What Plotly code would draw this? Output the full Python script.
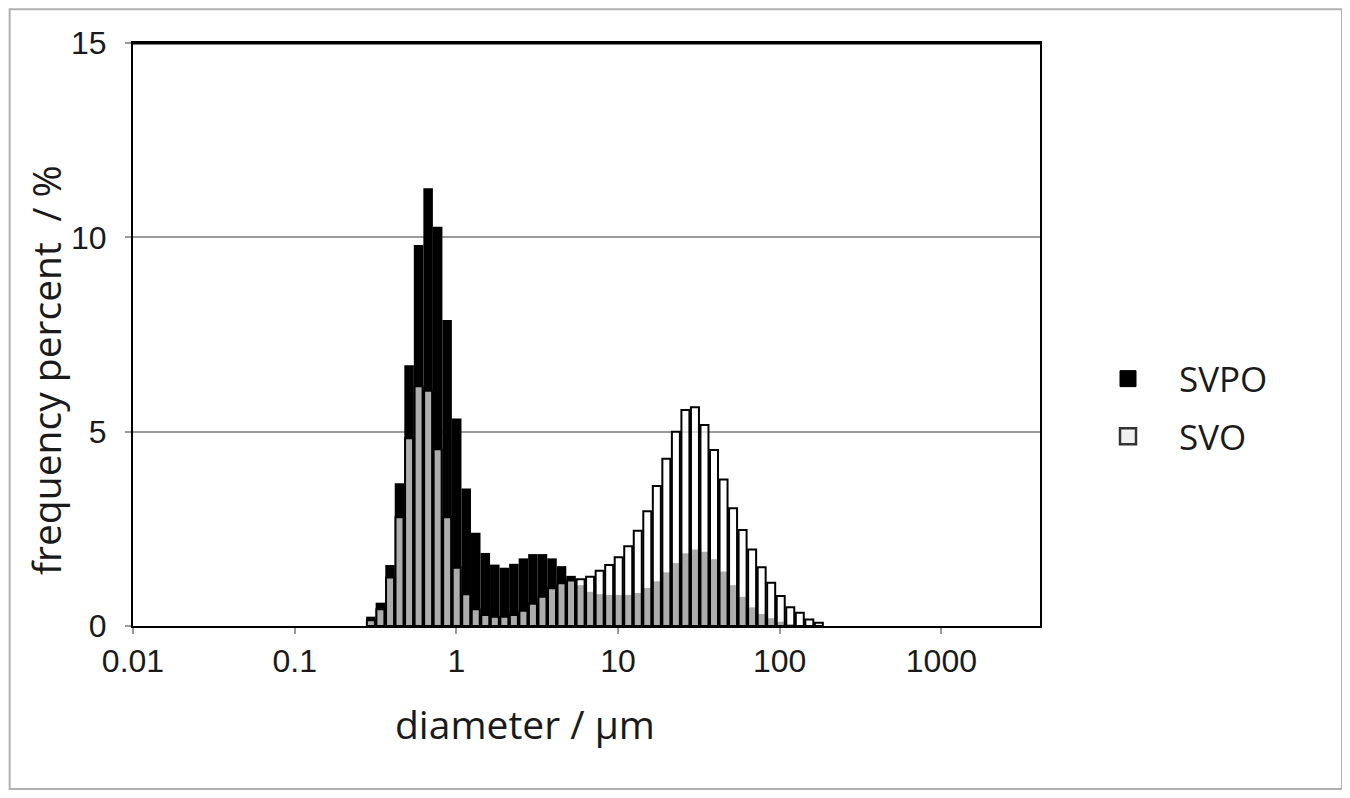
import numpy as np
import plotly.graph_objects as go

# particle size channels (µm)
diameter = [0.296, 0.339, 0.389, 0.445, 0.510, 0.584, 0.669, 0.766, 0.877, 1.005,
            1.151, 1.318, 1.510, 1.729, 1.981, 2.269, 2.599, 2.976, 3.409, 3.905,
            4.472, 5.122, 5.867, 6.720, 7.697, 8.816, 10.097, 11.565, 13.246, 15.172,
            17.377, 19.904, 22.797, 26.111, 29.907, 34.255, 39.234, 44.938, 51.471, 58.953,
            67.523, 77.339, 88.583, 101.46, 116.21, 133.10, 152.45, 174.62]

svpo = [0.24, 0.60, 1.57, 3.67, 6.71, 9.80, 11.26, 10.27, 7.87, 5.34,
        3.54, 2.40, 1.88, 1.58, 1.50, 1.60, 1.74, 1.85, 1.85, 1.74,
        1.54, 1.29, 1.05, 0.88, 0.82, 0.80, 0.80, 0.80, 0.85, 0.98,
        1.15, 1.38, 1.62, 1.87, 1.97, 1.91, 1.72, 1.40, 1.05, 0.75,
        0.48, 0.31, 0.20, 0.11, 0.05, 0.02, 0.0, 0.0]

svo = [0.15, 0.43, 1.25, 2.80, 4.83, 6.17, 6.05, 4.55, 2.80, 1.50,
       0.82, 0.43, 0.28, 0.24, 0.24, 0.28, 0.39, 0.57, 0.75, 0.97,
       1.10, 1.17, 1.20, 1.27, 1.42, 1.57, 1.77, 2.05, 2.45, 2.95,
       3.60, 4.30, 5.00, 5.56, 5.63, 5.17, 4.53, 3.77, 3.03, 2.47,
       1.97, 1.51, 1.11, 0.77, 0.48, 0.34, 0.17, 0.085]

x_ticks = [0.01, 0.1, 1, 10, 100, 1000]
x_tick_labels = ["0.01", "0.1", "1", "10", "100", "1000"]
y_ticks = [0, 5, 10, 15]

logd = np.log10(diameter)
step = float(np.mean(np.diff(logd)))

FONT = "Open Sans"
TICKFONT = "Liberation Sans"
TXT = "#1a1a1a"

fig = go.Figure()
fig.add_trace(go.Bar(
    x=logd, y=svpo, name="SVPO", width=step, showlegend=False,
    marker=dict(color="black", line=dict(color="black", width=0)),
))
fig.add_trace(go.Bar(
    x=logd, y=svo, name="SVO", width=step * 0.84, showlegend=False,
    marker=dict(color="rgba(255,255,255,0.68)", line=dict(color="black", width=2)),
))
# legend entries (square swatches)
fig.add_trace(go.Scatter(
    x=[None], y=[None], mode="markers", name="SVPO", legendgroup="a",
    marker=dict(symbol="square", size=18, color="black", line=dict(color="black", width=1)),
))
fig.add_trace(go.Scatter(
    x=[None], y=[None], mode="markers", name="SVO", legendgroup="b",
    marker=dict(symbol="square", size=17, color="#f0f0f0", line=dict(color="#333", width=2.5)),
))

fig.update_layout(
    width=1342, height=790,
    barmode="overlay",
    paper_bgcolor="white", plot_bgcolor="white",
    margin=dict(l=125, r=310, t=35, b=172),
    font=dict(family=FONT, color=TXT),
    showlegend=True,
    legend=dict(x=1.0408, xanchor="left", xref="paper", y=0.375, yanchor="middle",
                font=dict(size=35, family=FONT, color=TXT),
                bgcolor="rgba(0,0,0,0)", itemwidth=92, tracegroupgap=9,
                traceorder="grouped"),
    xaxis=dict(
        range=[-2, 3.61],
        tickvals=list(np.log10(x_ticks)), ticktext=x_tick_labels,
        showgrid=False, zeroline=False,
        showline=True, linecolor="black", linewidth=2, mirror=True,
        ticks="outside", ticklen=6, tickcolor="#999", tickwidth=1.5,
        tickfont=dict(size=32, family=TICKFONT, color=TXT),
    ),
    yaxis=dict(
        range=[0, 15], tickvals=y_ticks,
        showgrid=True, gridcolor="#9a9a9a", gridwidth=1.5,
        zeroline=False,
        showline=True, linecolor="black", linewidth=2, mirror=True,
        ticks="outside", ticklen=6, tickcolor="#999", tickwidth=1.5,
        tickfont=dict(size=32, family=TICKFONT, color=TXT), ticklabelstandoff=12,
    ),
    annotations=[
        dict(text="diameter / µm", xref="paper", yref="paper", x=0.432, y=-0.168,
             xanchor="center", yanchor="middle", showarrow=False,
             font=dict(size=39, family=FONT, color=TXT)),
        dict(text="frequency percent  / %", xref="paper", yref="paper", x=-0.097, y=0.439,
             xanchor="center", yanchor="middle", showarrow=False, textangle=-90,
             font=dict(size=39, family=FONT, color=TXT)),
    ],
    shapes=[
        dict(type="rect", xref="paper", yref="paper",
             x0=-0.136, x1=1.333, y0=-0.2796, y1=1.058,
             line=dict(color="#b0b0b0", width=2), fillcolor="rgba(0,0,0,0)", layer="below"),
        dict(type="line", xref="paper", yref="paper", x0=0, x1=1, y0=1, y1=1,
             line=dict(color="black", width=3)),
    ],
)

fig.write_html("out.html")
